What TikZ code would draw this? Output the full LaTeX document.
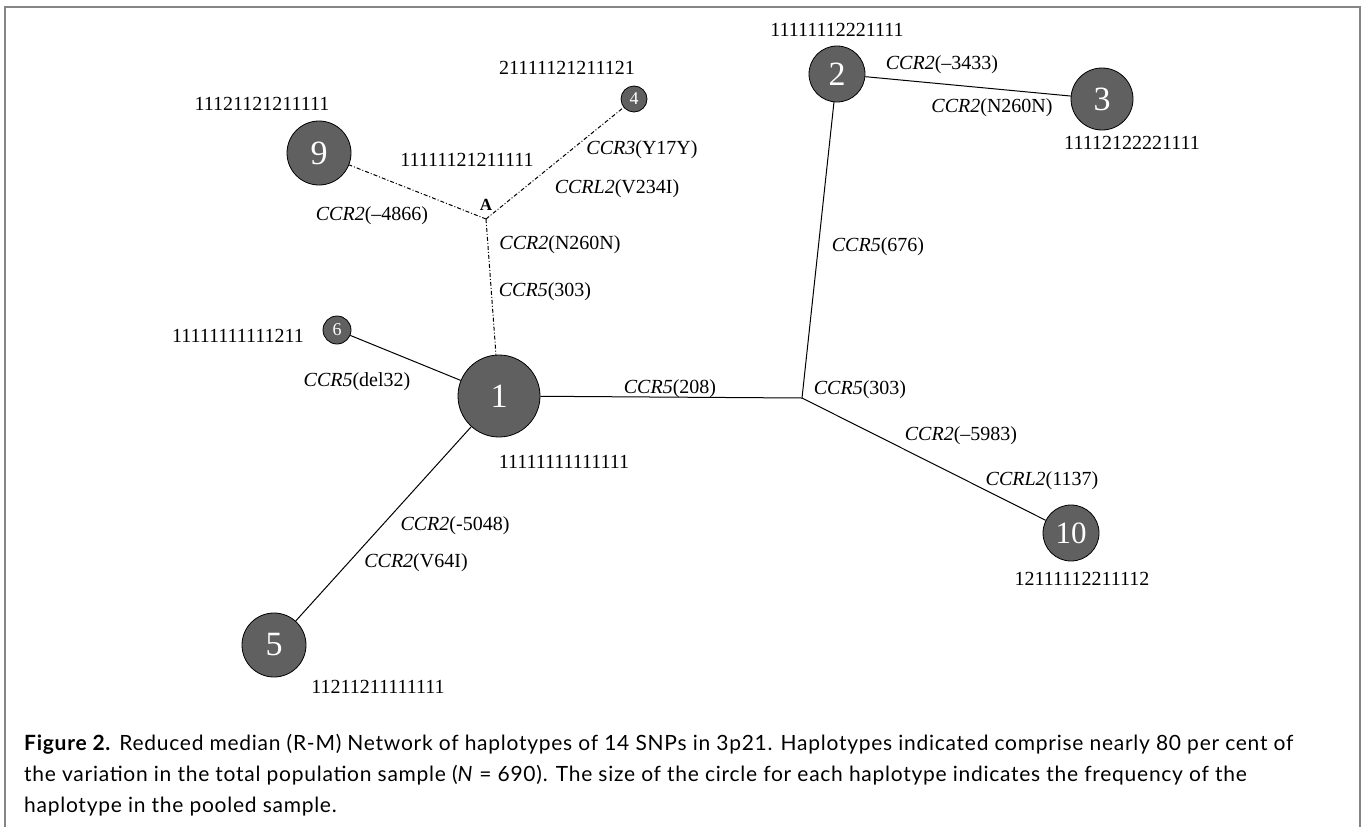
\documentclass[tikz,border=0pt]{standalone}
\usepackage{fontspec}
\setmainfont{Liberation Serif}
\newfontfamily\capfont[LetterSpace=3.5]{Lato}
\definecolor{hapgray}{HTML}{606060}
\definecolor{framegray}{HTML}{858585}
\begin{document}
\begin{tikzpicture}[x=1pt,y=-1pt,
  hap/.style={circle,draw=black,line width=0.8pt,fill=hapgray,text=white,inner sep=0pt,font=\fontsize{34}{34}\selectfont},
  hapsmall/.style={hap,font=\fontsize{18}{18}\selectfont},
  code/.style={inner sep=0pt,font=\fontsize{20}{20}\selectfont},
  mut/.style={inner sep=0pt,font=\fontsize{20}{20}\selectfont},
  link/.style={line width=1pt},
  dlink/.style={line width=1pt,dash pattern=on 4pt off 2pt on 1pt off 2pt},
  capline/.style={anchor=base west,inner sep=0pt,font=\capfont\fontsize{21}{21}\selectfont}]
\useasboundingbox (0,0) rectangle (1362,827);
\draw[framegray,line width=2pt] (5,827) -- (5,7) -- (1360,7) -- (1360,827);

% haplotype circles
\node[hap,minimum size=82pt] (n1) at (499,396) {1};
\node[hap,minimum size=56pt] (n2) at (837,74) {2};
\node[hap,minimum size=62pt] (n3) at (1102,99) {3};
\node[hapsmall,minimum size=26pt] (n4) at (634,99) {4};
\node[hap,minimum size=64pt] (n5) at (274,645) {5};
\node[hapsmall,minimum size=28pt] (n6) at (337,330) {6};
\node[hap,minimum size=64pt] (n9) at (319,153) {9};
\node[hap,minimum size=56pt,font=\fontsize{31}{31}\selectfont] (n10) at (1071,533) {10};
\coordinate (J) at (802,398);
\coordinate (A) at (486,219);

% connectors
\draw[link] (n1) -- (J);
\draw[link] (J) -- (n2);
\draw[link] (n2) -- (n3);
\draw[link] (J) -- (n10);
\draw[link] (n1) -- (n6);
\draw[link] (n1) -- (n5);
\draw[dlink] (A) -- (n9);
\draw[dlink] (A) -- (n4);
\draw[dlink] (A) -- (n1);

% median vector label
\node[inner sep=0pt,font=\bfseries\fontsize{17}{17}\selectfont] (lA) at (486,205) {A};

% haplotype codes
\node[code] (c1) at (564,462) {11111111111111};
\node[code] (c2) at (837,30) {11111112221111};
\node[code] (c3) at (1132,143) {11112122221111};
\node[code] (c4) at (567,68) {21111121211121};
\node[code] (c5) at (378,687) {11211211111111};
\node[code] (c6) at (238,336) {11111111111211};
\node[code] (c9) at (262,104) {11121121211111};
\node[code] (c10) at (1082,579) {12111112211112};
\node[code] (cA) at (467,160) {11111121211111};

% mutation labels
\node[mut] (m1) at (670,389) {\textit{CCR5}(208)};
\node[mut] (m2) at (860,390) {\textit{CCR5}(303)};
\node[mut] (m3) at (878,247) {\textit{CCR5}(676)};
\node[mut] (m4) at (942,65) {\textit{CCR2}(–3433)};
\node[mut] (m5) at (992,108) {\textit{CCR2}(N260N)};
\node[mut] (m6) at (961,436) {\textit{CCR2}(–5983)};
\node[mut] (m7) at (1042,481) {\textit{CCRL2}(1137)};
\node[mut] (m8) at (357,382) {\textit{CCR5}(del32)};
\node[mut] (m9) at (455,526) {\textit{CCR2}(-5048)};
\node[mut] (m10) at (416,563) {\textit{CCR2}(V64I)};
\node[mut] (m11) at (642,150) {\textit{CCR3}(Y17Y)};
\node[mut] (m12) at (617,189) {\textit{CCRL2}(V234I)};
\node[mut] (m13) at (372,216) {\textit{CCR2}(–4866)};
\node[mut] (m14) at (560,245) {\textit{CCR2}(N260N)};
\node[mut] (m15) at (545,292) {\textit{CCR5}(303)};

% caption
\node[capline] (cap1) at (24,750) {\textbf{Figure 2.} Reduced median (R-M) Network of haplotypes of 14 SNPs in 3p21. Haplotypes indicated comprise nearly 80 per cent of};
\node[capline] (cap2) at (24,781) {the variation in the total population sample (\textit{N} = 690). The size of the circle for each haplotype indicates the frequency of the};
\node[capline] (cap3) at (24,812) {haplotype in the pooled sample.};
\end{tikzpicture}
\end{document}
